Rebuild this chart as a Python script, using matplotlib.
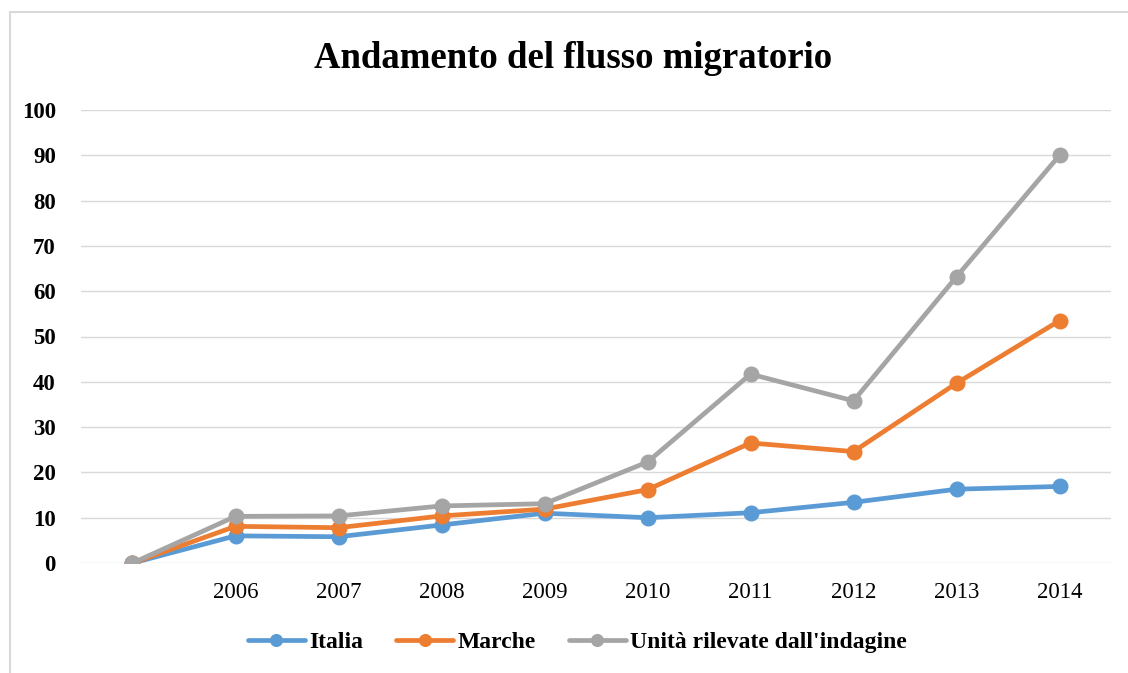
import numpy as np
import matplotlib.pyplot as plt
from matplotlib.patches import Rectangle

plt.rcParams['font.family'] = ['Liberation Serif', 'DejaVu Serif']

# categories (first one has no label)
years = ['', '2006', '2007', '2008', '2009', '2010', '2011', '2012', '2013', '2014']

italia = [0, 6.0, 5.8, 8.4, 11.0, 10.0, 11.1, 13.4, 16.3, 16.9]
marche = [0, 8.1, 7.8, 10.4, 11.9, 16.2, 26.5, 24.6, 39.7, 53.5]
unita = [0, 10.3, 10.4, 12.6, 13.1, 22.3, 41.7, 35.8, 63.2, 90.0]

series = [
    ('Italia', italia, '#5B9BD5'),
    ('Marche', marche, '#ED7D31'),
    ("Unità rilevate dall'indagine", unita, '#A5A5A5'),
]

fig = plt.figure(figsize=(11.28, 6.73), dpi=100)
ax = fig.add_axes([0.0718, 0.1634, 0.9132, 0.6732])

# chart area border
fig.patches.append(Rectangle((10 / 1128, -0.01), 1.1, 1 - 12 / 673 + 0.01,
                             transform=fig.transFigure, fill=False,
                             edgecolor='#D9D9D9', lw=1.5))

x = np.arange(len(years))
for name, vals, col in series:
    ax.plot(x, vals, color=col, lw=3.4, marker='o', markersize=10.5,
            label=name, solid_capstyle='round')

ax.set_xlim(-0.5, len(years) - 0.5)
ax.set_ylim(0, 100)
ax.set_yticks(np.arange(0, 101, 10))
ax.set_xticks(x)
ax.set_xticklabels(years, fontsize=16.5)
for lab in ax.get_yticklabels():
    lab.set_fontweight('bold')
    lab.set_fontsize(16.5)
ax.tick_params(axis='both', length=0)
ax.tick_params(axis='x', pad=14)
ax.tick_params(axis='y', pad=18)
ax.grid(axis='y', color='#D9D9D9', lw=1)
ax.set_axisbelow(True)
for s in ax.spines.values():
    s.set_visible(False)

fig.text(0.508, 0.913, 'Andamento del flusso migratorio', ha='center', va='center',
         fontsize=26.5, fontweight='bold')

leg = fig.legend(loc='center', bbox_to_anchor=(0.512, 0.045), ncol=3, frameon=False,
                 prop={'weight': 'bold', 'size': 17}, handlelength=2.4,
                 columnspacing=1.4, handletextpad=0.2, markerscale=0.8)

fig.savefig('out.png', dpi=100)
